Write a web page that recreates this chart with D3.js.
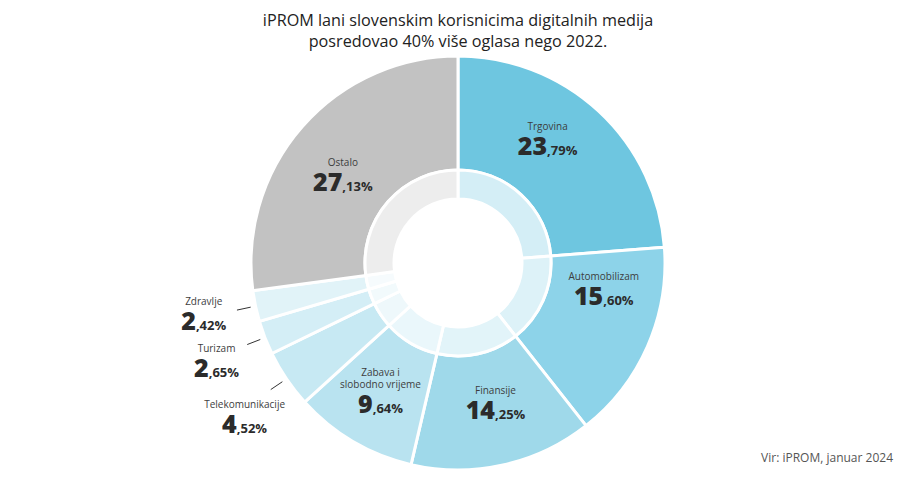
<!DOCTYPE html>
<html>
<head>
<meta charset="utf-8">
<script src="https://cdn.jsdelivr.net/npm/d3@7"></script>
<style>
  body { margin: 0; background: #fff; }
  text { font-family: "Open Sans", sans-serif; }
</style>
</head>
<body>
<div id="chart"></div>
<script>
// Data
const categories = ["Trgovina", "Automobilizam", "Finansije", "Zabava i\nslobodno vrijeme",
  "Telekomunikacije", "Turizam", "Zdravlje", "Ostalo"];
const shares = [23.79, 15.60, 14.25, 9.64, 4.52, 2.65, 2.42, 27.13];
const colors = ["#6ec6e0", "#8dd3e9", "#9fd9ea", "#b9e3f0", "#c7e9f3", "#d4eef6", "#e1f3f8", "#c2c2c2"];
const outside = [false, false, false, false, true, true, true, false];

const titleLines = ["iPROM lani slovenskim korisnicima digitalnih medija",
  "posredovao 40% više oglasa nego 2022."];
const source = "Vir: iPROM, januar 2024";

(function() {
  const width = 917, height = 480;
  const cx = 458, cy = 263;
  const R = 207, bandR = 93, holeR = 64;

  // label nudges (relative to label anchor): inside labels use r=145, outside r=260
  const nudge = [[-9, -2], [13, -16], [6, 14], [-4, 25], [2, 24], [1, 20], [0, 13], [-6, 23]];

  const svg = d3.select("#chart").append("svg")
    .attr("width", width)
    .attr("height", height);

  // Title
  svg.append("text")
    .attr("x", cx)
    .attr("y", 26)
    .attr("text-anchor", "middle")
    .attr("font-size", 16.2)
    .attr("fill", "#222")
    .selectAll("tspan")
    .data(titleLines)
    .join("tspan")
    .attr("x", cx)
    .attr("dy", (d, i) => i ? 21 : 0)
    .text(d => d);

  const rows = categories.map((c, i) => ({ name: c, value: shares[i], color: colors[i], outside: outside[i], i }));

  const pie = d3.pie().sort(null).value(d => d.value);
  const arcs = pie(rows);

  const g = svg.append("g").attr("transform", `translate(${cx},${cy})`);

  const outerArc = d3.arc().innerRadius(bandR).outerRadius(R);
  const bandArc = d3.arc().innerRadius(holeR).outerRadius(bandR);

  g.selectAll("path.outer")
    .data(arcs)
    .join("path")
    .attr("class", "outer")
    .attr("d", outerArc)
    .attr("fill", d => d.data.color)
    .attr("stroke", "#fff")
    .attr("stroke-width", 3)
    .attr("stroke-linejoin", "round");

  g.selectAll("path.band")
    .data(arcs)
    .join("path")
    .attr("class", "band")
    .attr("d", bandArc)
    .attr("fill", d => d3.interpolateRgb(d.data.color, "#fff")(0.7))
    .attr("stroke", "#fff")
    .attr("stroke-width", 3)
    .attr("stroke-linejoin", "round");

  const insideAt = d3.arc().innerRadius(145).outerRadius(145);
  const outsideAt = d3.arc().innerRadius(260).outerRadius(260);
  const lineIn = d3.arc().innerRadius(212).outerRadius(212);
  const lineOut = d3.arc().innerRadius(226).outerRadius(226);

  // Leader lines for small slices
  g.selectAll("line.leader")
    .data(arcs.filter(d => d.data.outside))
    .join("line")
    .attr("class", "leader")
    .attr("x1", d => lineIn.centroid(d)[0])
    .attr("y1", d => lineIn.centroid(d)[1])
    .attr("x2", d => lineOut.centroid(d)[0])
    .attr("y2", d => lineOut.centroid(d)[1])
    .attr("stroke", "#333")
    .attr("stroke-width", 1);

  const labels = g.selectAll("g.label")
    .data(arcs)
    .join("g")
    .attr("class", "label")
    .attr("transform", d => {
      const p = (d.data.outside ? outsideAt : insideAt).centroid(d);
      const n = nudge[d.data.i];
      return `translate(${p[0] + n[0]},${p[1] + n[1]})`;
    });

  // Category name (one or two lines) above the number
  labels.each(function(d) {
    const lines = d.data.name.split("\n");
    d3.select(this).append("text")
      .attr("text-anchor", "middle")
      .attr("font-size", 10)
      .attr("fill", "#3d3d3d")
      .selectAll("tspan")
      .data(lines)
      .join("tspan")
      .attr("x", 0)
      .attr("y", (l, k) => -25 - (lines.length - 1 - k) * 12)
      .text(l => l);
  });

  const num = labels.append("text")
    .attr("text-anchor", "middle")
    .attr("fill", "#2b2b2b");

  num.append("tspan")
    .attr("font-size", 25)
    .attr("font-weight", 800)
    .text(d => Math.floor(d.data.value));

  num.append("tspan")
    .attr("font-size", 13)
    .attr("font-weight", 700)
    .text(d => "," + d3.format(".2f")(d.data.value).split(".")[1] + "%");

  // Source
  svg.append("text")
    .attr("x", 893)
    .attr("y", 462)
    .attr("text-anchor", "end")
    .attr("font-size", 12)
    .attr("fill", "#555")
    .text(source);
})();
</script>
</body>
</html>
